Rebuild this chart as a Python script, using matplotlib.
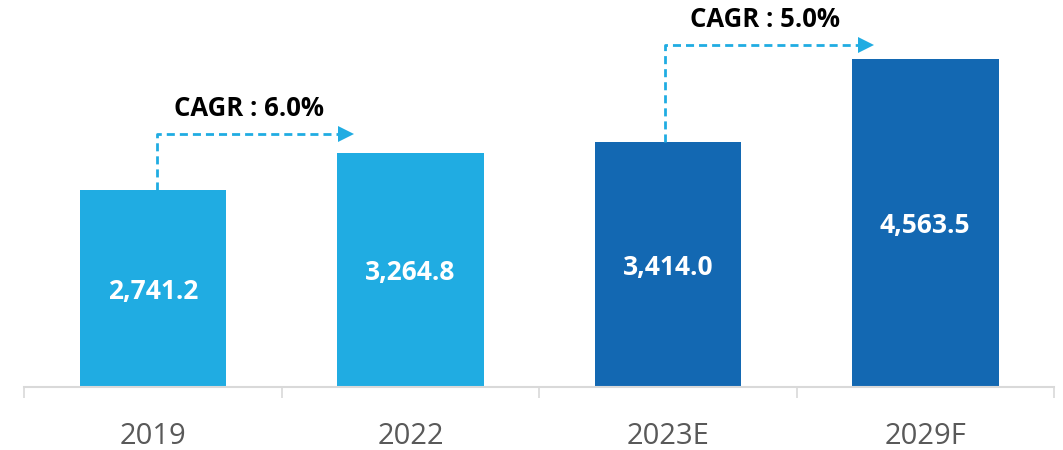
import matplotlib
matplotlib.use("Agg")
import matplotlib.pyplot as plt

plt.rcParams["font.family"] = ["Open Sans", "DejaVu Sans"]

# Market size by year
categories = ["2019", "2022", "2023E", "2029F"]
values = [2741.2, 3264.8, 3414.0, 4563.5]
value_labels = ["2,741.2", "3,264.8", "3,414.0", "4,563.5"]
cagr_labels = ["CAGR : 6.0%", "CAGR : 5.0%"]

LIGHT = "#20ACE2"
DARK = "#1368B2"
bar_colors = [LIGHT, LIGHT, DARK, DARK]

fig = plt.figure(figsize=(10.63, 4.5), dpi=100)
ax = fig.add_axes([0.023, 0.14, 0.9685, 0.798])

x = list(range(len(categories)))
ax.bar(x, values, width=0.57, color=bar_colors, zorder=2)

for xi, v, lab in zip(x, values, value_labels):
    ax.text(xi, v / 2 - 40, lab, ha="center", va="center", color="white",
            fontsize=19, fontweight="bold")

ax.set_xlim(-0.5, 3.5)
ax.set_ylim(0, 5000)

# x axis: light gray baseline with separators between categories
for s in ["top", "right", "left"]:
    ax.spines[s].set_visible(False)
ax.spines["bottom"].set_color("#D9D9D9")
ax.spines["bottom"].set_linewidth(1.5)
ax.set_yticks([])
ax.set_xticks([-0.5, 0.5, 1.5, 2.5, 3.5], minor=False)
ax.set_xticklabels([])
ax.tick_params(axis="x", which="major", length=8, width=1.2, color="#D9D9D9")
ax.set_xticks(x, minor=True)
ax.set_xticklabels(categories, minor=True, fontsize=21, color="#595959")
ax.tick_params(axis="x", which="minor", length=0, pad=25)

# CAGR growth arrows
arrow_specs = [
    # (start bar, start x, level of horizontal run, arrow tip x, label x, label y)
    (0, 0.015, 3520, 0.776, 0.373, 3880),
    (2, 1.988, 4760, 2.797, 2.377, 5120),
]
dash = (0, (2.9, 1.8))
for (bi, sx, level, tip, lx, ly), lab in zip(arrow_specs, cagr_labels):
    head = 0.028
    ax.plot([sx, sx, tip - head], [values[bi], level, level],
            color=LIGHT, lw=2, linestyle=dash, zorder=3, clip_on=False,
            solid_capstyle="butt", dash_capstyle="butt")
    ax.plot([tip - head], [level], marker=">", markersize=11,
            color=LIGHT, markeredgewidth=0, zorder=3, clip_on=False)
    ax.text(lx, ly, lab, ha="center", va="center", fontsize=18.5,
            fontweight="bold", color="black", clip_on=False)

fig.savefig("out.png", dpi=100, facecolor="white")
